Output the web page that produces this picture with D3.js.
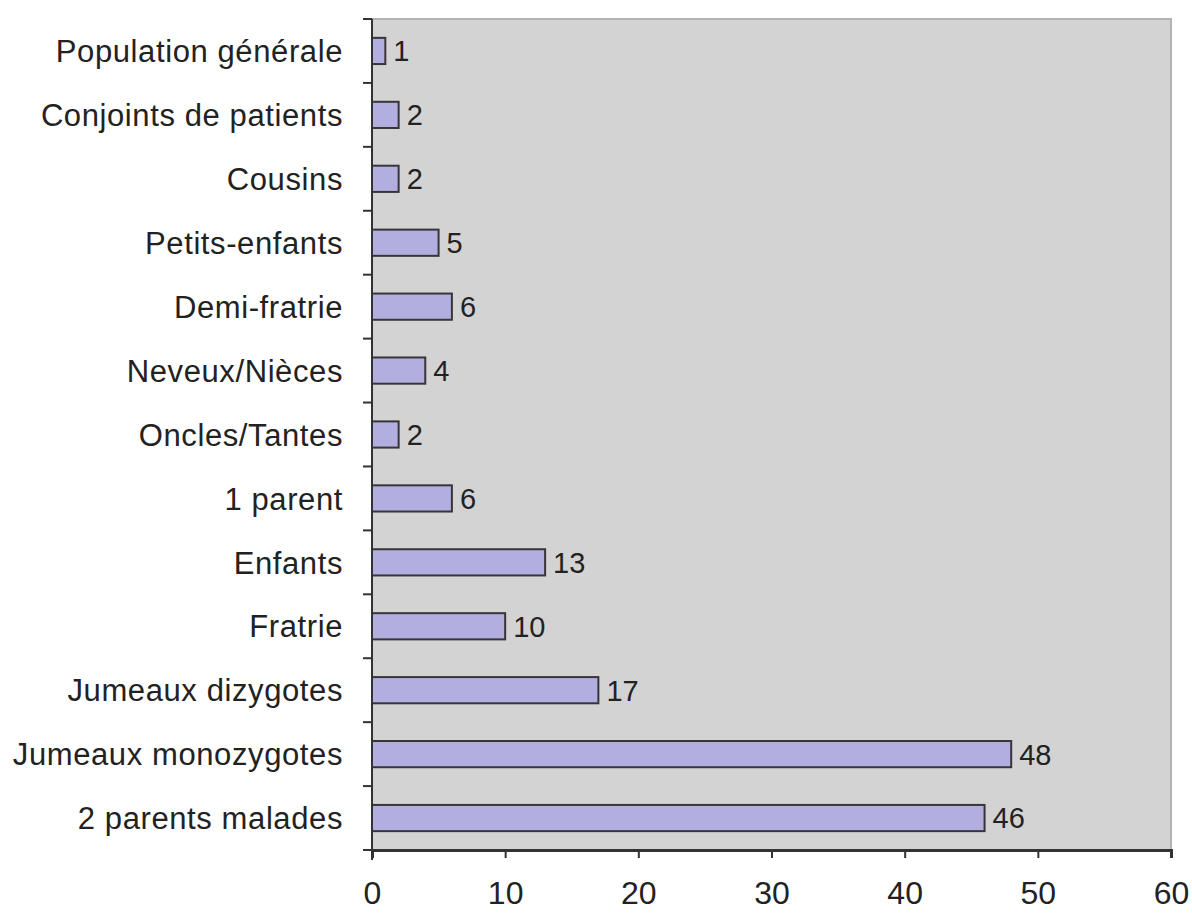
<!DOCTYPE html>
<html>
<head>
<meta charset="utf-8">
<script src="https://cdn.jsdelivr.net/npm/d3@7"></script>
<style>
  body { margin: 0; background: #fff; }
  text { font-family: "Liberation Sans", Arial, sans-serif; fill: #222; }
</style>
</head>
<body>
<script>
var categories = ['Population générale', 'Conjoints de patients', 'Cousins', 'Petits-enfants',
  'Demi-fratrie', 'Neveux/Nièces', 'Oncles/Tantes', '1 parent', 'Enfants', 'Fratrie',
  'Jumeaux dizygotes', 'Jumeaux monozygotes', '2 parents malades']
var values = [1, 2, 2, 5, 6, 4, 2, 6, 13, 10, 17, 48, 46]
var xTicks = [0, 10, 20, 30, 40, 50, 60]

var width = 1192
var height = 913
var margin = {top: 19, right: 21, bottom: 63, left: 372}

var svg = d3.select('body').append('svg')
  .attr('width', width)
  .attr('height', height)

var innerW = width - margin.left - margin.right
var innerH = height - margin.top - margin.bottom

var x = d3.scaleLinear().domain([0, 60]).range([0, innerW])
var y = d3.scaleBand().domain(categories).range([0, innerH]).paddingInner(0.59).paddingOuter(0.295)

var g = svg.append('g').attr('transform', 'translate(' + margin.left + ',' + margin.top + ')')

// plot background
g.append('rect')
  .attr('width', innerW)
  .attr('height', innerH)
  .attr('fill', '#d4d3d3')
  .attr('stroke', '#b4b2b2')
  .attr('stroke-width', 2)

// bars
g.selectAll('.bar').data(values).enter().append('rect')
  .attr('class', 'bar')
  .attr('x', 0)
  .attr('y', function(d, i){ return y(categories[i]) })
  .attr('width', function(d){ return x(d) })
  .attr('height', y.bandwidth())
  .attr('fill', '#b3aee0')
  .attr('stroke', '#3a3438')
  .attr('stroke-width', 2)

// value labels
g.selectAll('.val').data(values).enter().append('text')
  .attr('class', 'val')
  .attr('x', function(d){ return x(d) + 8 })
  .attr('y', function(d, i){ return y(categories[i]) + y.bandwidth() / 2 })
  .attr('dy', '0.36em')
  .attr('font-size', 29)
  .text(function(d){ return d })

// y axis: ticks at band boundaries
var step = innerH / categories.length
var ya = g.append('g')
ya.append('line')
  .attr('x1', 0).attr('x2', 0)
  .attr('y1', 0).attr('y2', innerH + 10)
  .attr('stroke', '#333').attr('stroke-width', 2)
d3.range(categories.length + 1).forEach(function(i){
  ya.append('line')
    .attr('x1', -9).attr('x2', 0)
    .attr('y1', i * step).attr('y2', i * step)
    .attr('stroke', '#333').attr('stroke-width', 2)
})
ya.selectAll('.lbl').data(categories).enter().append('text')
  .attr('x', -29)
  .attr('y', function(d){ return y(d) + y.bandwidth() / 2 })
  .attr('dy', '0.36em')
  .attr('text-anchor', 'end')
  .attr('font-size', 31)
  .attr('letter-spacing', 0.6)
  .text(function(d){ return d })

// x axis
var xa = g.append('g')
  .attr('transform', 'translate(0,' + innerH + ')')
  .call(d3.axisBottom(x).tickValues(xTicks).tickSize(8).tickPadding(23))
xa.select('.domain').attr('stroke', '#333').attr('stroke-width', 3)
xa.selectAll('.tick line').attr('stroke', '#333').attr('stroke-width', 2)
xa.selectAll('.tick text')
  .attr('font-size', 32)
  .attr('font-family', '"Liberation Sans", Arial, sans-serif')
  .attr('fill', '#222')
</script>
</body>
</html>
